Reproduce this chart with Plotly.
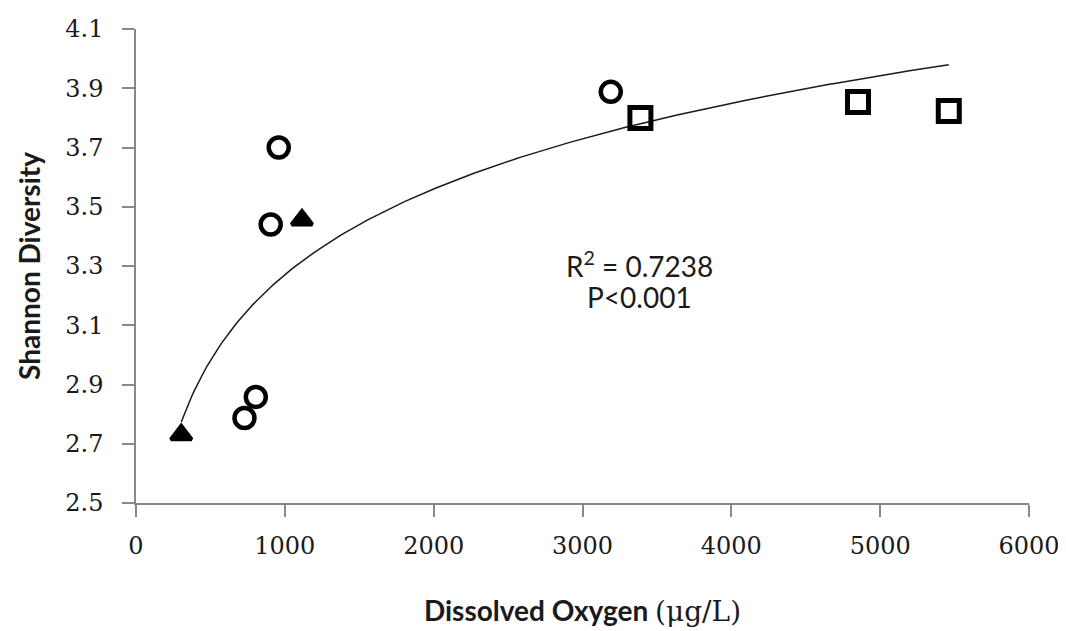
import numpy as np
import plotly.graph_objects as go

# Data
circle_x = [729, 805, 905, 959, 3190]
circle_y = [2.787, 2.858, 3.44, 3.70, 3.888]
square_x = [3389, 4851, 5461]
square_y = [3.800, 3.854, 3.823]
triangle_x = [304, 1115]
triangle_y = [2.73, 3.455]

x_ticks = [0, 1000, 2000, 3000, 4000, 5000, 6000]
y_ticks = [2.5, 2.7, 2.9, 3.1, 3.3, 3.5, 3.7, 3.9, 4.1]
r2_text = "R<sup>2</sup> = 0.7238"
p_text = "P<0.001"

# Logarithmic trendline fitted to all points
all_x = np.array(circle_x + square_x + triangle_x, dtype=float)
all_y = np.array(circle_y + square_y + triangle_y, dtype=float)
a, b = np.polyfit(np.log(all_x), all_y, 1)
fit_x = np.linspace(all_x.min(), all_x.max(), 300)
fit_y = a * np.log(fit_x) + b

fig = go.Figure()
fig.add_trace(go.Scatter(x=fit_x, y=fit_y, mode="lines",
                         line=dict(color="#1a1a1a", width=1.5),
                         hoverinfo="skip", showlegend=False))
fig.add_trace(go.Scatter(x=circle_x, y=circle_y, mode="markers",
                         marker=dict(symbol="circle-open", size=20, color="black",
                                     line=dict(width=4.5, color="black")),
                         showlegend=False))
fig.add_trace(go.Scatter(x=square_x, y=square_y, mode="markers",
                         marker=dict(symbol="square-open", size=21, color="black",
                                     line=dict(width=5, color="black")),
                         showlegend=False))
fig.add_trace(go.Scatter(x=triangle_x, y=triangle_y, mode="markers",
                         marker=dict(symbol="triangle-up", size=18, color="black",
                                     line=dict(width=4, color="black")),
                         showlegend=False))

fig.add_annotation(x=3380, y=3.305, xref="x", yref="y", text=r2_text, showarrow=False,
                   font=dict(family="Lato", size=28, color="#1a1a1a"))
fig.add_annotation(x=3380, y=3.196, xref="x", yref="y", text=p_text, showarrow=False,
                   font=dict(family="Lato", size=28, color="#1a1a1a"))

axis_common = dict(showgrid=False, zeroline=False, showline=True, linecolor="#888888",
                   linewidth=1.5, ticks="outside", ticklen=12, tickwidth=1.5,
                   tickcolor="#888888", automargin=False,
                   tickfont=dict(family="DejaVu Serif", size=24, color="#1a1a1a"))

# The page body has an 8px default margin; the figure size compensates for it
fig.update_layout(
    width=1058, height=623,
    paper_bgcolor="white", plot_bgcolor="white",
    margin=dict(l=128, r=37, t=21, b=128),
    xaxis=dict(range=[0, 6000], tickvals=x_ticks, ticktext=[str(v) for v in x_ticks],
               title=dict(text="<b>Dissolved Oxygen </b><span style='font-family:DejaVu Serif'>(μg/L)</span>",
                          font=dict(family="Lato", size=28, color="#1a1a1a"), standoff=43),
               ticklabelstandoff=8,
               **axis_common),
    yaxis=dict(range=[2.5, 4.1], tickvals=y_ticks, ticktext=[f"{v:.1f}" for v in y_ticks],
               title=dict(text="<b>Shannon Diversity</b>",
                          font=dict(family="Lato", size=28, color="#1a1a1a"), standoff=16),
               ticklabelstandoff=14,
               **axis_common),
)

fig.write_html("out.html")
